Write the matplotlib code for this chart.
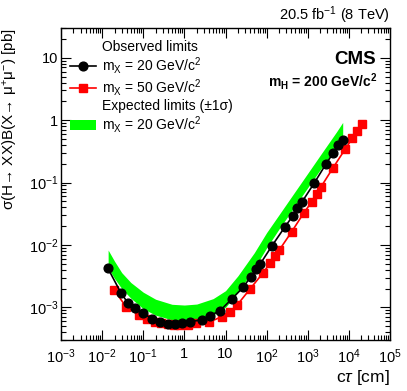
import numpy as np
import matplotlib
matplotlib.use("Agg")
import matplotlib.pyplot as plt
from matplotlib.lines import Line2D
from matplotlib.patches import Patch
from matplotlib.ticker import LogLocator, NullFormatter

plt.rcParams["font.family"] = ["Liberation Sans", "DejaVu Sans"]
plt.rcParams["mathtext.fontset"] = "custom"
plt.rcParams["mathtext.rm"] = "Liberation Sans"
plt.rcParams["mathtext.it"] = "Liberation Sans:italic"
plt.rcParams["mathtext.bf"] = "Liberation Sans:bold"

# observed limits, m_X = 20 GeV/c^2
ct_20 = [0.0139, 0.029, 0.042, 0.063, 0.1, 0.16, 0.25, 0.4, 0.6, 0.9, 1.37,
         2.64, 4.2, 7.3, 14, 27, 41, 55, 69, 135, 280, 430, 560, 710, 1420,
         2780, 4190, 5540, 7080]
obs_20 = [4.2e-3, 1.68e-3, 1.19e-3, 9.9e-4, 8.0e-4, 6.6e-4, 5.8e-4, 5.4e-4,
          5.4e-4, 5.6e-4, 5.9e-4, 6.3e-4, 7.4e-4, 8.8e-4, 1.35e-3, 2.1e-3,
          3.1e-3, 4.1e-3, 4.9e-3, 9.7e-3, 0.0196, 0.029, 0.0387, 0.048,
          0.097, 0.199, 0.30, 0.40, 0.48]

# observed limits, m_X = 50 GeV/c^2
ct_50 = [0.0195, 0.038, 0.079, 0.126, 0.19, 0.27, 0.39, 0.55, 0.78, 1.25,
         1.9, 4.0, 8.1, 12.9, 19, 39, 80, 121, 160, 203, 407, 810, 1250,
         1650, 2070, 4040, 8050, 12100, 16000, 20400]
obs_50 = [1.9e-3, 1.03e-3, 7.5e-4, 6.4e-4, 5.9e-4, 5.6e-4, 5.4e-4, 5.3e-4,
          5.2e-4, 5.3e-4, 5.6e-4, 5.8e-4, 7.1e-4, 8.5e-4, 1.08e-3, 1.95e-3,
          3.5e-3, 5.1e-3, 6.7e-3, 8.3e-3, 0.0163, 0.033, 0.049, 0.065,
          0.084, 0.169, 0.34, 0.51, 0.68, 0.86]

# expected +-1 sigma band, m_X = 20 GeV/c^2
ct_exp = [0.014, 0.02, 0.03, 0.05, 0.1, 0.2, 0.5, 1, 2, 5, 10, 20, 50, 100,
          200, 500, 1000, 2000, 5000, 7080]
exp_lo = [4.3e-3, 2.9e-3, 2.0e-3, 1.4e-3, 9.5e-4, 7.5e-4, 6.3e-4, 6.0e-4,
          6.2e-4, 7.5e-4, 1.0e-3, 1.75e-3, 4.2e-3, 9.0e-3, 0.018, 0.043,
          0.083, 0.16, 0.38, 0.53]
exp_hi = [8.3e-3, 5.5e-3, 3.6e-3, 2.5e-3, 1.75e-3, 1.35e-3, 1.12e-3, 1.09e-3,
          1.13e-3, 1.38e-3, 1.85e-3, 3.2e-3, 7.5e-3, 0.0158, 0.0305, 0.073,
          0.141, 0.273, 0.65, 0.92]

xticks = [1e-3, 1e-2, 1e-1, 1, 10, 1e2, 1e3, 1e4, 1e5]
xlabels = ["10$^{-3}$", "10$^{-2}$", "10$^{-1}$", "1", "10", "10$^{2}$",
           "10$^{3}$", "10$^{4}$", "10$^{5}$"]
yticks = [1e-3, 1e-2, 1e-1, 1, 10]
ylabels = ["10$^{-3}$", "10$^{-2}$", "10$^{-1}$", "1", "10"]

W, H = 407, 391
fig = plt.figure(figsize=(W / 100, H / 100), dpi=100)
ax = fig.add_axes([61 / W, 1 - 340 / H, 329 / W, 312 / H])

green = "#00ff00"
red = "#ff0000"
ax.fill_between(ct_exp, exp_lo, exp_hi, color=green, lw=0, zorder=1)
ax.plot(ct_20, obs_20, "-o", color="black", ms=6.3, lw=1.2, zorder=3)
ax.plot(ct_50, obs_50, "-s", color=red, ms=6, lw=1.2, zorder=2)

ax.set_xscale("log")
ax.set_yscale("log")
ax.set_xlim(1e-3, 1e5)
ax.set_ylim(3e-4, 30)

ax.set_xticks(xticks, xlabels)
ax.set_yticks(yticks, ylabels)
ax.xaxis.set_minor_locator(LogLocator(base=10, subs=np.arange(2, 10), numticks=100))
ax.yaxis.set_minor_locator(LogLocator(base=10, subs=np.arange(2, 10), numticks=100))
ax.xaxis.set_minor_formatter(NullFormatter())
ax.yaxis.set_minor_formatter(NullFormatter())
ax.tick_params(which="both", direction="in", top=True, right=True,
               labelsize=10.5, width=0.8)
ax.tick_params(which="major", length=7)
ax.tick_params(which="minor", length=3.5)
ax.tick_params(axis="x", pad=5)
ax.tick_params(axis="y", pad=2)
for s in ax.spines.values():
    s.set_linewidth(1)

ax.set_xlabel(r"c$\tau$ [cm]", fontsize=12.5, ha="right")
ax.xaxis.set_label_coords(1.0, -0.09)
ax.set_ylabel("σ(H→ XX)B(X→ μ$^{+}$μ$^{-}$) [pb]", fontsize=11, ha="right")
ax.yaxis.set_label_coords(-0.125, 1.0)

fig.text(390 / W, 1 - 20 / H, "20.5 fb$^{-1}$ (8 TeV)", fontsize=10.5,
         ha="right", va="baseline")
ax.text(0.957, 0.9, "CMS", transform=ax.transAxes, fontsize=13.5,
        fontweight="bold", ha="right", va="center")
ax.text(0.962, 0.83, r"m$_{\mathbf{H}}$ = 200 GeV/c$^{\mathbf{2}}$",
        transform=ax.transAxes, fontsize=10, fontweight="bold",
        ha="right", va="center")

blank = Line2D([], [], alpha=0)
handles = [
    blank,
    Line2D([], [], color="black", marker="o", ms=6.3, lw=1.2),
    Line2D([], [], color=red, marker="s", ms=6, lw=1.2),
    blank,
    Patch(facecolor=green, edgecolor="none"),
]
labels = [
    "Observed limits",
    "m$_{\\mathregular{X}}$ = 20 GeV/c$^{2}$",
    "m$_{\\mathregular{X}}$ = 50 GeV/c$^{2}$",
    "Expected limits (±1σ)",
    "m$_{\\mathregular{X}}$ = 20 GeV/c$^{2}$",
]
fig.legend(handles, labels, loc="upper left",
           bbox_to_anchor=(70 / W, 1 - 40 / H), frameon=False,
           fontsize=10, handlelength=1.9, handletextpad=0.4,
           labelspacing=0.08, borderpad=0, borderaxespad=0)

fig.savefig("out.png", dpi=100)
